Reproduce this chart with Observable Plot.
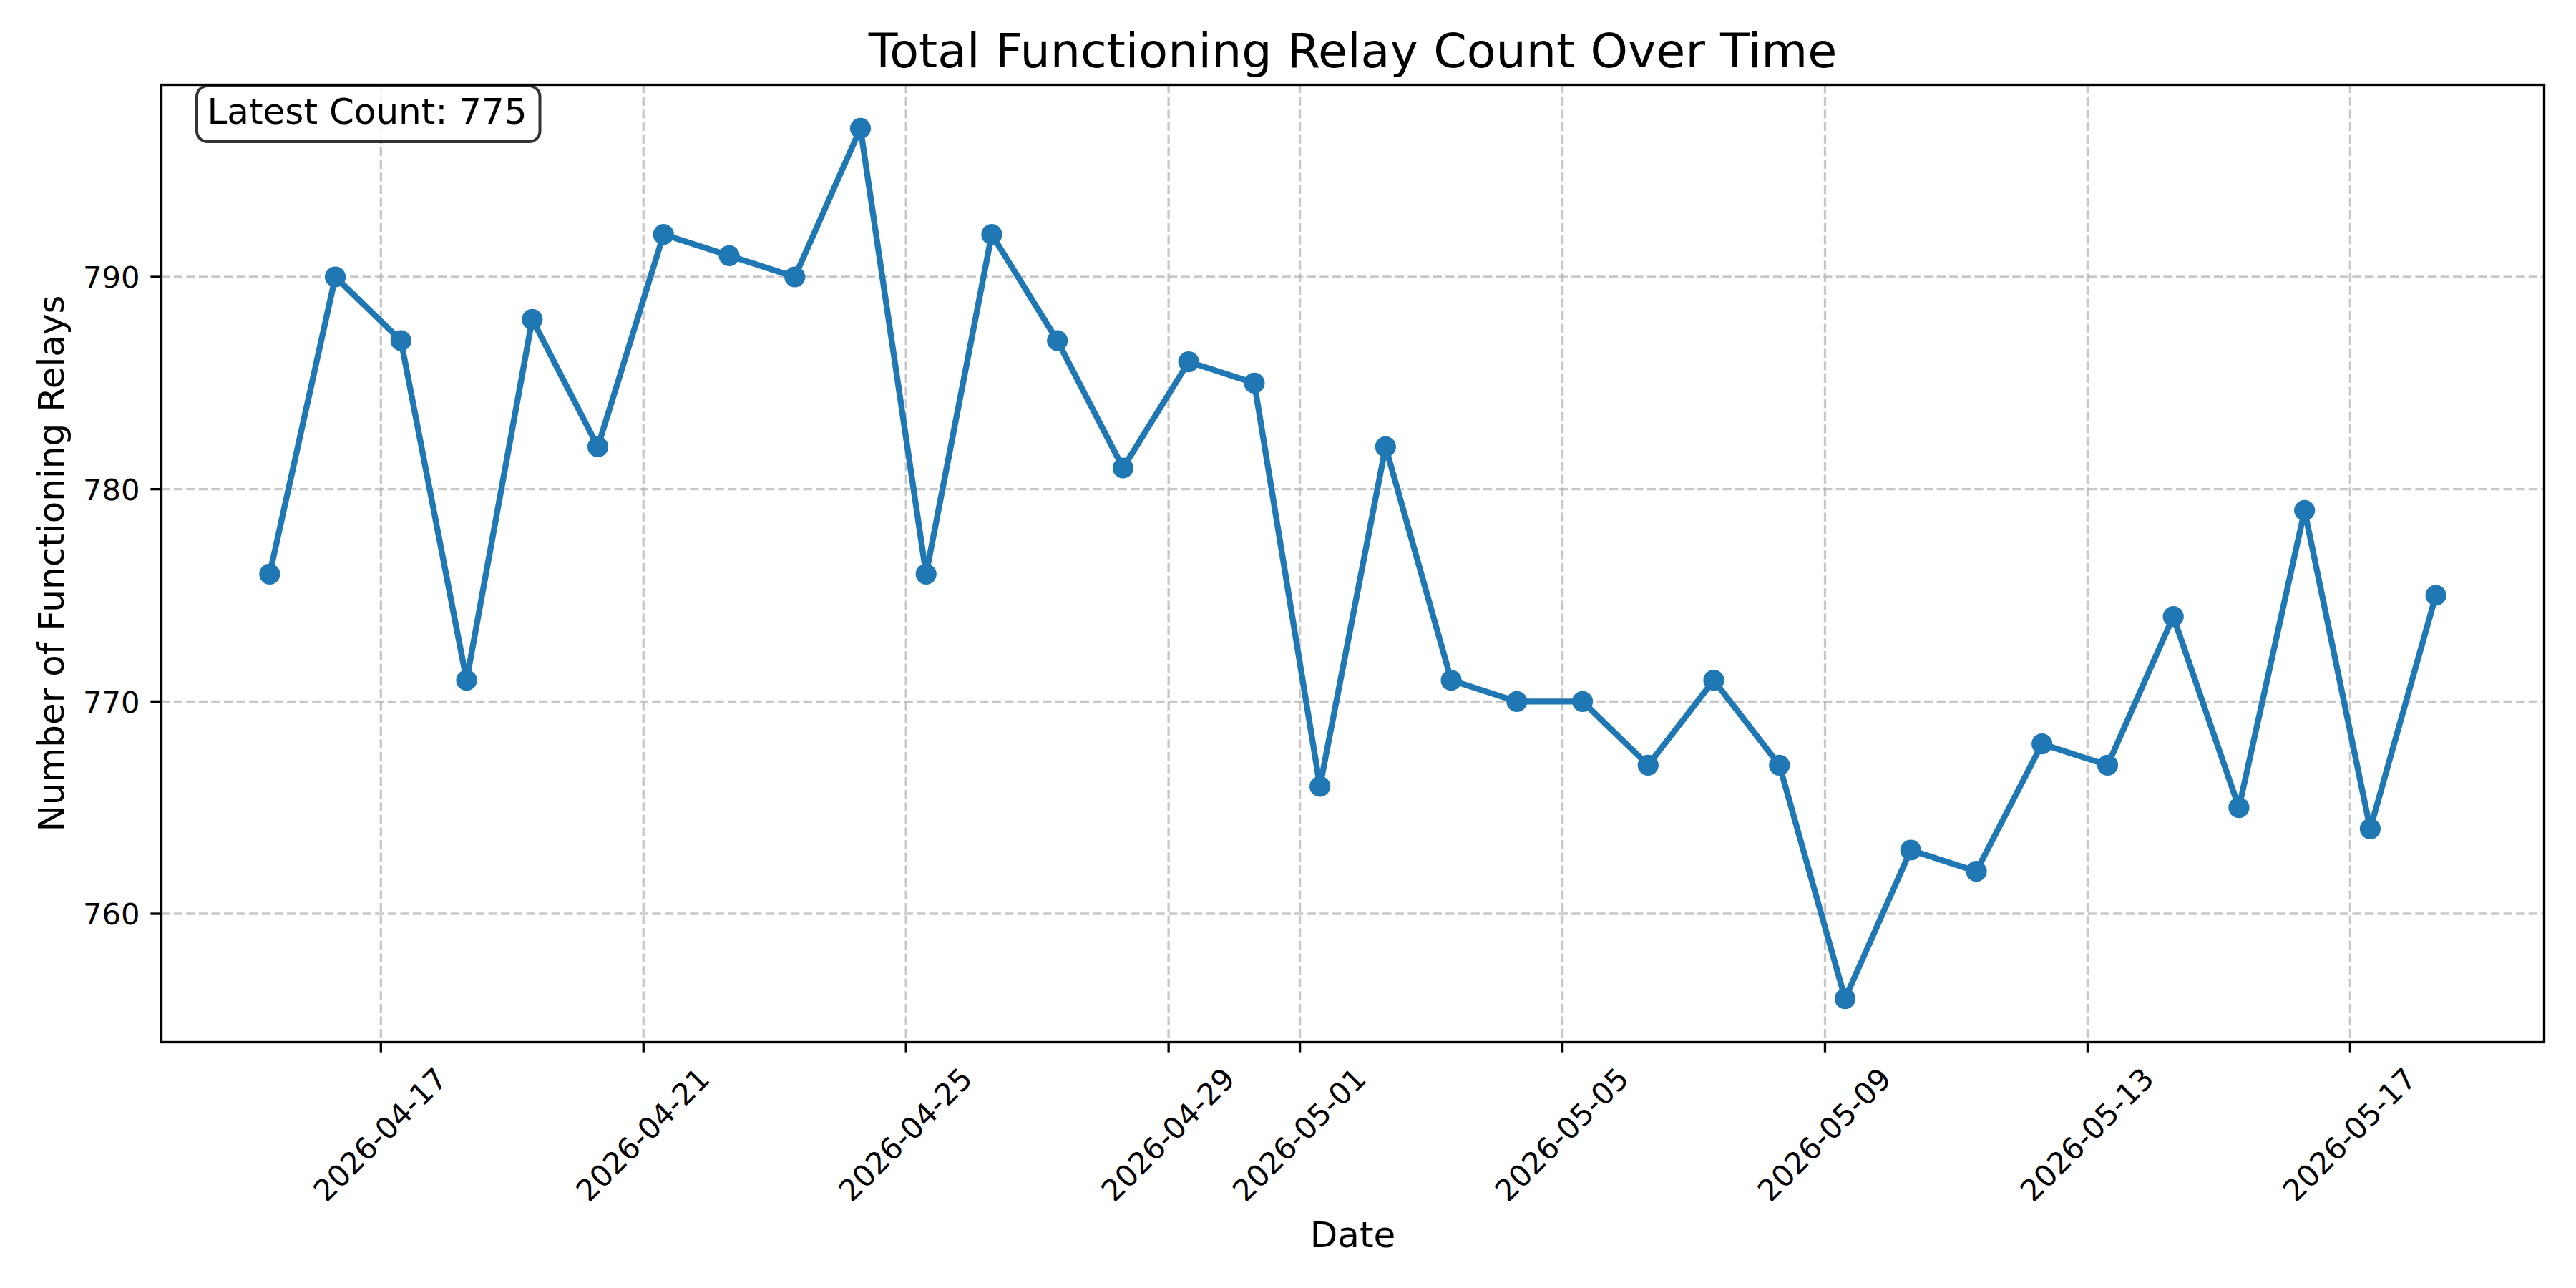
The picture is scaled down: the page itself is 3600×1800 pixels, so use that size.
<!DOCTYPE html>
<html>
<head>
<meta charset="utf-8">
<script src="https://cdn.jsdelivr.net/npm/d3@7"></script>
<script src="https://cdn.jsdelivr.net/npm/@observablehq/plot@0.6"></script>
<style>
  html, body { margin: 0; padding: 0; background: white; }
  #chart { width: 3600px; height: 1800px; }
</style>
</head>
<body>
<div id="chart"></div>
<script>
// ---- data ----
const dates = [
  "2026-04-15T07:20Z", "2026-04-16T07:20Z", "2026-04-17T07:20Z", "2026-04-18T07:20Z",
  "2026-04-19T07:20Z", "2026-04-20T07:20Z", "2026-04-21T07:20Z", "2026-04-22T07:20Z",
  "2026-04-23T07:20Z", "2026-04-24T07:20Z", "2026-04-25T07:20Z", "2026-04-26T07:20Z",
  "2026-04-27T07:20Z", "2026-04-28T07:20Z", "2026-04-29T07:20Z", "2026-04-30T07:20Z",
  "2026-05-01T07:20Z", "2026-05-02T07:20Z", "2026-05-03T07:20Z", "2026-05-04T07:20Z",
  "2026-05-05T07:20Z", "2026-05-06T07:20Z", "2026-05-07T07:20Z", "2026-05-08T07:20Z",
  "2026-05-09T07:20Z", "2026-05-10T07:20Z", "2026-05-11T07:20Z", "2026-05-12T07:20Z",
  "2026-05-13T07:20Z", "2026-05-14T07:20Z", "2026-05-15T07:20Z", "2026-05-16T07:20Z",
  "2026-05-17T07:20Z", "2026-05-18T07:20Z"
];
const counts = [
  776, 790, 787, 771, 788, 782, 792, 791, 790, 797,
  776, 792, 787, 781, 786, 785, 766, 782, 771, 770,
  770, 767, 771, 767, 756, 763, 762, 768, 767, 774,
  765, 779, 764, 775
];
const xTickLabels = [
  "2026-04-17", "2026-04-21", "2026-04-25", "2026-04-29", "2026-05-01",
  "2026-05-05", "2026-05-09", "2026-05-13", "2026-05-17"
];
const yTickValues = [760, 770, 780, 790];
const titleText = "Total Functioning Relay Count Over Time";
const xLabelText = "Date";
const yLabelText = "Number of Functioning Relays";

// ---- derived ----
const data = dates.map((d, i) => ({date: new Date(d), count: counts[i]}));
const xTicks = xTickLabels.map(s => new Date(s + "T00:00Z"));
const [x0, x1] = d3.extent(data, d => d.date);
const xPad = (x1 - x0) * 0.05;
const [y0, y1] = d3.extent(counts);
const yPad = (y1 - y0) * 0.05;
const fmt = d3.utcFormat("%Y-%m-%d");

const blue = "#1f77b4";
const gridStyle = {stroke: "#b0b0b0", strokeOpacity: 0.7, strokeWidth: 3.33, strokeDasharray: "12.3,5.3"};

const chart = Plot.plot({
  width: 3600,
  height: 1800,
  marginLeft: 225,
  marginRight: 45,
  marginTop: 118,
  marginBottom: 344,
  style: {fontFamily: "DejaVu Sans", fontSize: "41.7px", color: "black", background: "white"},
  x: {type: "utc", domain: [new Date(+x0 - xPad), new Date(+x1 + xPad)], label: null},
  y: {domain: [y0 - yPad, y1 + yPad], label: null},
  marks: [
    Plot.gridX(xTicks, gridStyle),
    Plot.gridY(yTickValues, gridStyle),
    Plot.line(data, {x: "date", y: "count", stroke: blue, strokeWidth: 8.33}),
    Plot.dot(data, {x: "date", y: "count", r: 14.6, fill: blue, stroke: "none"}),
    Plot.frame({stroke: "black", strokeWidth: 3.33}),
    Plot.axisX(xTicks, {tickSize: 14.6, strokeWidth: 3.33, tickFormat: () => "", label: null}),
    Plot.axisY(yTickValues, {tickSize: 14.6, strokeWidth: 3.33, tickFormat: () => "", label: null}),
    // x tick labels
    Plot.text(xTicks, {
      x: d => d, text: d => fmt(d), frameAnchor: "bottom", dy: 130,
      rotate: -45, textAnchor: "middle", lineAnchor: "middle", fontSize: 41.7, fill: "black"
    }),
    // y tick labels
    Plot.text(yTickValues, {
      y: d => d, text: d => String(d), frameAnchor: "left", dx: -30, dy: 2,
      textAnchor: "end", lineAnchor: "middle", fontSize: 41.7, fill: "black"
    }),
    // title
    Plot.text([titleText], {
      text: d => d, frameAnchor: "top", dy: -25, lineAnchor: "bottom",
      textAnchor: "middle", fontSize: 66.7, fill: "black"
    }),
    // x label
    Plot.text([xLabelText], {
      text: d => d, frameAnchor: "bottom", dy: 286, lineAnchor: "bottom",
      textAnchor: "middle", fontSize: 50, fill: "black"
    }),
    // y label
    Plot.text([yLabelText], {
      text: d => d, frameAnchor: "left", dx: -137, rotate: -90, lineAnchor: "bottom",
      textAnchor: "middle", fontSize: 50, fill: "black"
    }),
    // annotation box
    Plot.frame({
      fill: "white", fillOpacity: 0.8, stroke: "black", strokeOpacity: 0.8, strokeWidth: 4,
      rx: 15, ry: 15,
      insetLeft: 49.5, insetTop: 1.5, insetRight: 2801, insetBottom: 1258.5
    }),
    Plot.text([`Latest Count: ${counts[counts.length - 1]}`], {
      text: d => d, frameAnchor: "top-left", dx: 64, dy: 54, lineAnchor: "bottom",
      textAnchor: "start", fontSize: 50, fill: "black"
    })
  ]
});

document.getElementById("chart").appendChild(chart);
</script>
</body>
</html>
